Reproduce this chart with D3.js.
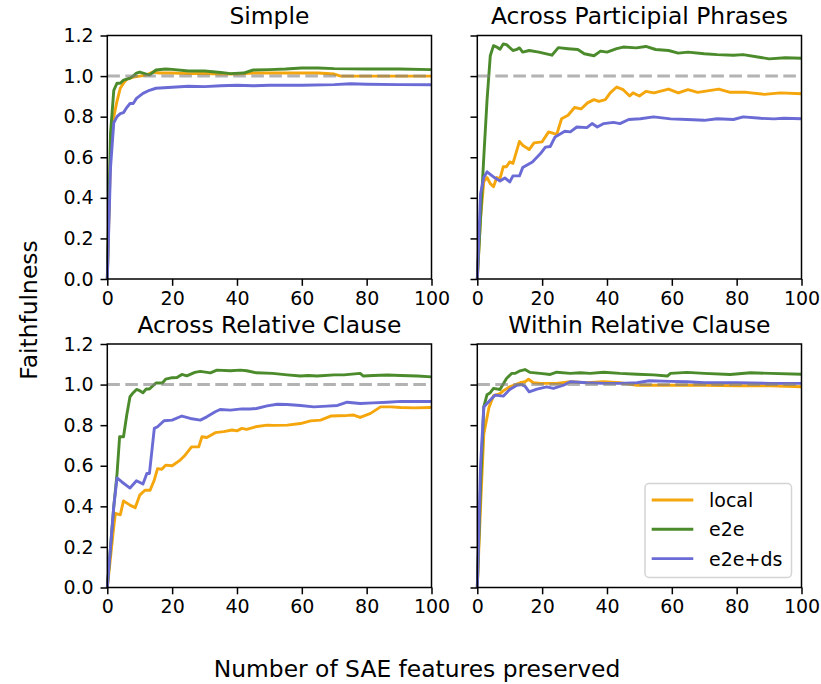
<!DOCTYPE html>
<html>
<head>
<meta charset="utf-8">
<script src="https://cdn.jsdelivr.net/npm/d3@7"></script>
<style>
    body { margin: 0; background: #fff; }
    svg { font-family: "DejaVu Sans", sans-serif; }
</style>
</head>
<body>
<svg width="821" height="684"></svg>
<script>

// Títulos dos painéis e nomes das séries.
const paineis = ["Simple", "Across Participial Phrases", "Across Relative Clause", "Within Relative Clause"];
const series = ["local", "e2e", "e2e+ds"];
const ticksX = [0, 20, 40, 60, 80, 100];
const ticksY = [0.0, 0.2, 0.4, 0.6, 0.8, 1.0, 1.2];

// Pontos [número de features, fidelidade].
const simpleLocal = [[0,0],[1,0.62],[2,0.8],[3,0.877],[4,0.94],[5,0.965],[6,0.984],[8,0.995],[10,1.0],[12,1.005],[14,1.02],[16,1.015],[20,1.015],[25,1.012],[30,1.013],[35,1.01],[40,1.01],[45,1.015],[55,1.015],[65,1.015],[70,1.01],[72,1.0],[80,1.0],[90,1.0],[100,1.0]];
const simpleE2e = [[0,0],[1,0.72],[2,0.93],[3,0.965],[4,0.965],[5,0.98],[7,0.99],[8,1.0],[9,1.015],[10,1.02],[12,1.01],[13,1.005],[15,1.03],[18,1.035],[20,1.033],[25,1.025],[30,1.025],[35,1.018],[38,1.012],[42,1.015],[45,1.03],[50,1.032],[55,1.035],[60,1.04],[65,1.04],[70,1.037],[80,1.035],[90,1.035],[100,1.032]];
const simpleDs = [[0,0],[1,0.55],[2,0.77],[3,0.8],[4,0.815],[5,0.82],[6,0.845],[7,0.865],[8,0.865],[9,0.89],[11,0.915],[13,0.93],[15,0.94],[20,0.945],[25,0.95],[30,0.948],[35,0.952],[40,0.955],[45,0.952],[50,0.955],[60,0.955],[70,0.958],[75,0.962],[80,0.96],[90,0.958],[100,0.957]];

const participLocal = [[0,0],[1,0.3],[2,0.48],[3,0.5],[4,0.47],[5,0.455],[6,0.5],[7,0.495],[8,0.553],[9,0.553],[10,0.577],[11,0.57],[13,0.678],[14,0.659],[16,0.638],[17.5,0.671],[20,0.676],[22,0.725],[24.5,0.713],[26,0.79],[28,0.807],[30,0.845],[32,0.838],[34,0.868],[36,0.884],[37.5,0.875],[39.5,0.884],[41,0.917],[43,0.946],[45,0.933],[47,0.902],[48,0.917],[50,0.902],[52,0.925],[54.5,0.917],[59,0.936],[62,0.917],[65,0.933],[68,0.92],[71,0.927],[74.5,0.936],[78,0.92],[83,0.92],[88.5,0.91],[93.5,0.917],[100,0.913]];
const participE2e = [[0,0],[1,0.3],[2,0.6],[3,0.88],[4,1.1],[5,1.15],[6,1.143],[7,1.132],[8,1.158],[9,1.155],[11,1.126],[12,1.13],[13,1.139],[14,1.118],[16,1.126],[19,1.118],[23,1.103],[25,1.14],[28,1.135],[31,1.131],[33,1.11],[36,1.1],[38,1.123],[40,1.118],[43,1.135],[45,1.143],[49,1.139],[52,1.146],[55,1.131],[59,1.126],[62,1.113],[65,1.118],[70,1.11],[74,1.106],[79,1.103],[82,1.106],[87,1.093],[90,1.085],[95,1.09],[100,1.088]];
const participDs = [[0,0],[1,0.42],[2,0.5],[3,0.528],[5,0.503],[7,0.483],[8.5,0.498],[10,0.478],[11,0.508],[13,0.508],[14,0.549],[17,0.577],[19.5,0.618],[21,0.65],[22.5,0.653],[24,0.7],[27,0.728],[28.7,0.725],[30.7,0.749],[33.8,0.746],[35.4,0.766],[37,0.749],[39,0.766],[42,0.772],[44,0.766],[46.7,0.786],[50.3,0.79],[54.4,0.799],[59.6,0.789],[64.7,0.786],[70,0.782],[74,0.79],[79,0.786],[82,0.799],[87.4,0.792],[91.5,0.789],[94.6,0.792],[100,0.79]];

const acrossRelLocal = [[0,0],[1,0.15],[2,0.3],[2.5,0.365],[4,0.358],[5,0.427],[7,0.406],[8.6,0.393],[10,0.455],[11.6,0.479],[13.2,0.479],[14.5,0.53],[15.5,0.586],[16.8,0.583],[18,0.603],[20,0.6],[22.5,0.628],[24,0.652],[26,0.693],[28.2,0.693],[29.2,0.743],[30.7,0.739],[33.3,0.763],[35.9,0.768],[38.5,0.776],[40,0.772],[41.5,0.784],[43,0.779],[45.7,0.792],[49.3,0.8],[51.3,0.799],[55.5,0.8],[59.6,0.808],[62.7,0.821],[65.8,0.825],[68.9,0.845],[74,0.848],[76,0.85],[78,0.838],[81.2,0.858],[84.3,0.89],[87.4,0.89],[90.5,0.887],[94.6,0.885],[100,0.887]];
const acrossRelE2e = [[0,0],[1,0.2],[2,0.4],[3,0.56],[3.8,0.743],[5,0.743],[6,0.85],[7,0.94],[8,0.96],[9,0.976],[10,0.97],[11,0.96],[12,0.978],[13,0.978],[15,1.008],[17,1.008],[18,1.027],[20,1.034],[21.5,1.035],[23,1.05],[24.5,1.043],[27,1.06],[28.7,1.065],[31.8,1.058],[33.8,1.071],[38,1.068],[41,1.071],[43,1.068],[46,1.058],[51,1.055],[55.5,1.048],[59.6,1.042],[62,1.045],[64.7,1.042],[70,1.048],[73,1.048],[78,1.055],[79,1.042],[82,1.045],[86.4,1.047],[90.5,1.045],[95.7,1.042],[100,1.038]];
const acrossRelDs = [[0,0],[1,0.2],[2,0.4],[3,0.54],[4.5,0.52],[7,0.49],[9,0.526],[11,0.51],[12.2,0.562],[13,0.562],[14.5,0.784],[15.5,0.792],[17.5,0.822],[20,0.825],[23,0.845],[25.6,0.833],[28.7,0.825],[30.7,0.841],[33.3,0.866],[34.8,0.877],[38,0.874],[41.5,0.88],[44,0.88],[46,0.882],[49.3,0.895],[52.4,0.903],[55.5,0.902],[59.6,0.897],[63.7,0.89],[67.8,0.894],[71,0.897],[74,0.913],[78,0.907],[82,0.91],[86.4,0.913],[90.5,0.917],[100,0.917]];

const withinRelLocal = [[0,0],[1,0.4],[2,0.756],[3.6,0.887],[5,0.945],[7,0.955],[8,0.969],[10,0.989],[13.2,1.009],[14.7,1.014],[15.8,1.026],[17.3,1.009],[19.4,1.006],[24.5,1.006],[28.7,1.014],[33.8,1.009],[39,1.014],[44,1.009],[49.3,0.997],[59.6,0.997],[70,0.997],[80,0.994],[90.5,0.994],[100,0.989]];
const withinRelE2e = [[0,0],[1,0.5],[2,0.89],[3,0.95],[4,0.96],[5,0.981],[7,0.976],[9,1.03],[10.6,1.055],[11.6,1.055],[13.2,1.068],[14.7,1.074],[16.3,1.06],[19.4,1.055],[22.5,1.05],[24.5,1.061],[28.7,1.055],[31.8,1.058],[34.8,1.055],[39,1.061],[44,1.055],[49.3,1.051],[54.4,1.048],[58.6,1.042],[59.6,1.055],[64.7,1.06],[70,1.055],[78,1.05],[84.3,1.058],[90.5,1.055],[100,1.051]];
const withinRelDs = [[0,0],[1,0.6],[2,0.89],[4,0.924],[5.5,0.948],[8,0.943],[10,0.976],[12.2,0.997],[13.7,1.0],[14.7,0.992],[16,0.964],[18.4,0.978],[21.4,0.989],[23.5,0.981],[26.6,0.997],[28.7,1.014],[33.8,1.009],[39,1.006],[44,1.006],[49.3,1.009],[53,1.019],[59.6,1.016],[64.7,1.014],[70,1.009],[80,1.009],[90.5,1.006],[100,1.006]];

// Agrupa as séries de cada painel na mesma ordem dos títulos.
const dadosPaineis = [
    [simpleLocal, simpleE2e, simpleDs],
    [participLocal, participE2e, participDs],
    [acrossRelLocal, acrossRelE2e, acrossRelDs],
    [withinRelLocal, withinRelE2e, withinRelDs]
];

const cores = ["#f4a60c", "#4b8b2b", "#6b6bd6"];

$ready();

function $ready() {
    const svg = d3.select("svg");

    const largura = 324.2;
    const altura = 243.5;
    const origensX = [107.3, 477.3];
    const origensY = [35.5, 344];

    paineis.forEach((titulo, i) => {
        const col = i % 2;
        const lin = Math.floor(i / 2);
        desenharPainel(svg, origensX[col], origensY[lin], largura, altura, titulo, dadosPaineis[i], col === 0);
    });

    // Rótulos comuns aos quatro painéis.
    svg.append("text")
        .attr("x", 417)
        .attr("y", 677)
        .attr("text-anchor", "middle")
        .attr("font-size", 23.4)
        .attr("fill", "#000")
        .text("Number of SAE features preserved");

    svg.append("text")
        .attr("transform", "translate(37,310) rotate(-90)")
        .attr("text-anchor", "middle")
        .attr("font-size", 23.4)
        .attr("fill", "#000")
        .text("Faithfulness");

    desenharLegenda(svg);
}

function desenharPainel(svg, x0, y0, largura, altura, titulo, dados, comRotulosY) {
    const g = svg.append("g").attr("transform", "translate(" + x0 + "," + y0 + ")");

    const x = d3.scaleLinear().domain([0, 100]).range([0, largura]);
    const y = d3.scaleLinear().domain([0, 1.2]).range([altura, 0]);

    const linha = d3.line()
        .x(d => x(d[0]))
        .y(d => y(d[1]));

    dados.forEach((serie, j) => {
        g.append("path")
            .datum(serie)
            .attr("fill", "none")
            .attr("stroke", cores[j])
            .attr("stroke-width", 2.9)
            .attr("stroke-linejoin", "round")
            .attr("d", linha);
    });

    // Linha de referência em 1.0, por cima das séries.
    g.append("line")
        .attr("x1", x(0))
        .attr("x2", x(100))
        .attr("y1", y(1))
        .attr("y2", y(1))
        .attr("stroke", "#808080")
        .attr("stroke-opacity", 0.6)
        .attr("stroke-width", 3)
        .attr("stroke-dasharray", "12.6,5.4");

    const eixoX = g.append("g")
        .attr("transform", "translate(0," + altura + ")")
        .call(d3.axisBottom(x).tickValues(ticksX).tickSize(6.8).tickSizeOuter(0).tickPadding(5.5)
            .tickFormat(d3.format("d")));

    const eixoY = g.append("g")
        .call(d3.axisLeft(y).tickValues(ticksY).tickSize(6.8).tickSizeOuter(0).tickPadding(6.8)
            .tickFormat(comRotulosY ? d3.format(".1f") : ""));

    [eixoX, eixoY].forEach(eixo => {
        eixo.attr("font-family", "DejaVu Sans").attr("font-size", 19);
        eixo.select(".domain").remove();
        eixo.selectAll(".tick line").attr("stroke", "#000").attr("stroke-width", 1.5);
        eixo.selectAll(".tick text").attr("fill", "#000");
    });

    // Moldura do painel (quatro lados).
    g.append("rect")
        .attr("width", largura)
        .attr("height", altura)
        .attr("fill", "none")
        .attr("stroke", "#000")
        .attr("stroke-width", 1.5);

    g.append("text")
        .attr("x", largura / 2)
        .attr("y", -11.5)
        .attr("text-anchor", "middle")
        .attr("font-size", 23.4)
        .attr("fill", "#000")
        .text(titulo);
}

function desenharLegenda(svg) {
    const g = svg.append("g").attr("transform", "translate(645,483.5)");

    g.append("rect")
        .attr("width", 146.5)
        .attr("height", 94)
        .attr("rx", 4)
        .attr("fill", "#fff")
        .attr("fill-opacity", 0.8)
        .attr("stroke", "#d4d4d4")
        .attr("stroke-width", 1.5);

    series.forEach((nome, j) => {
        const yLinha = 16.5 + j * 29.3;
        g.append("line")
            .attr("x1", 6.7)
            .attr("x2", 48.3)
            .attr("y1", yLinha)
            .attr("y2", yLinha)
            .attr("stroke", cores[j])
            .attr("stroke-width", 2.9);
        g.append("text")
            .attr("x", 64)
            .attr("y", yLinha + 7)
            .attr("font-size", 19)
            .attr("fill", "#000")
            .text(nome);
    });
}
</script>
</body>
</html>
